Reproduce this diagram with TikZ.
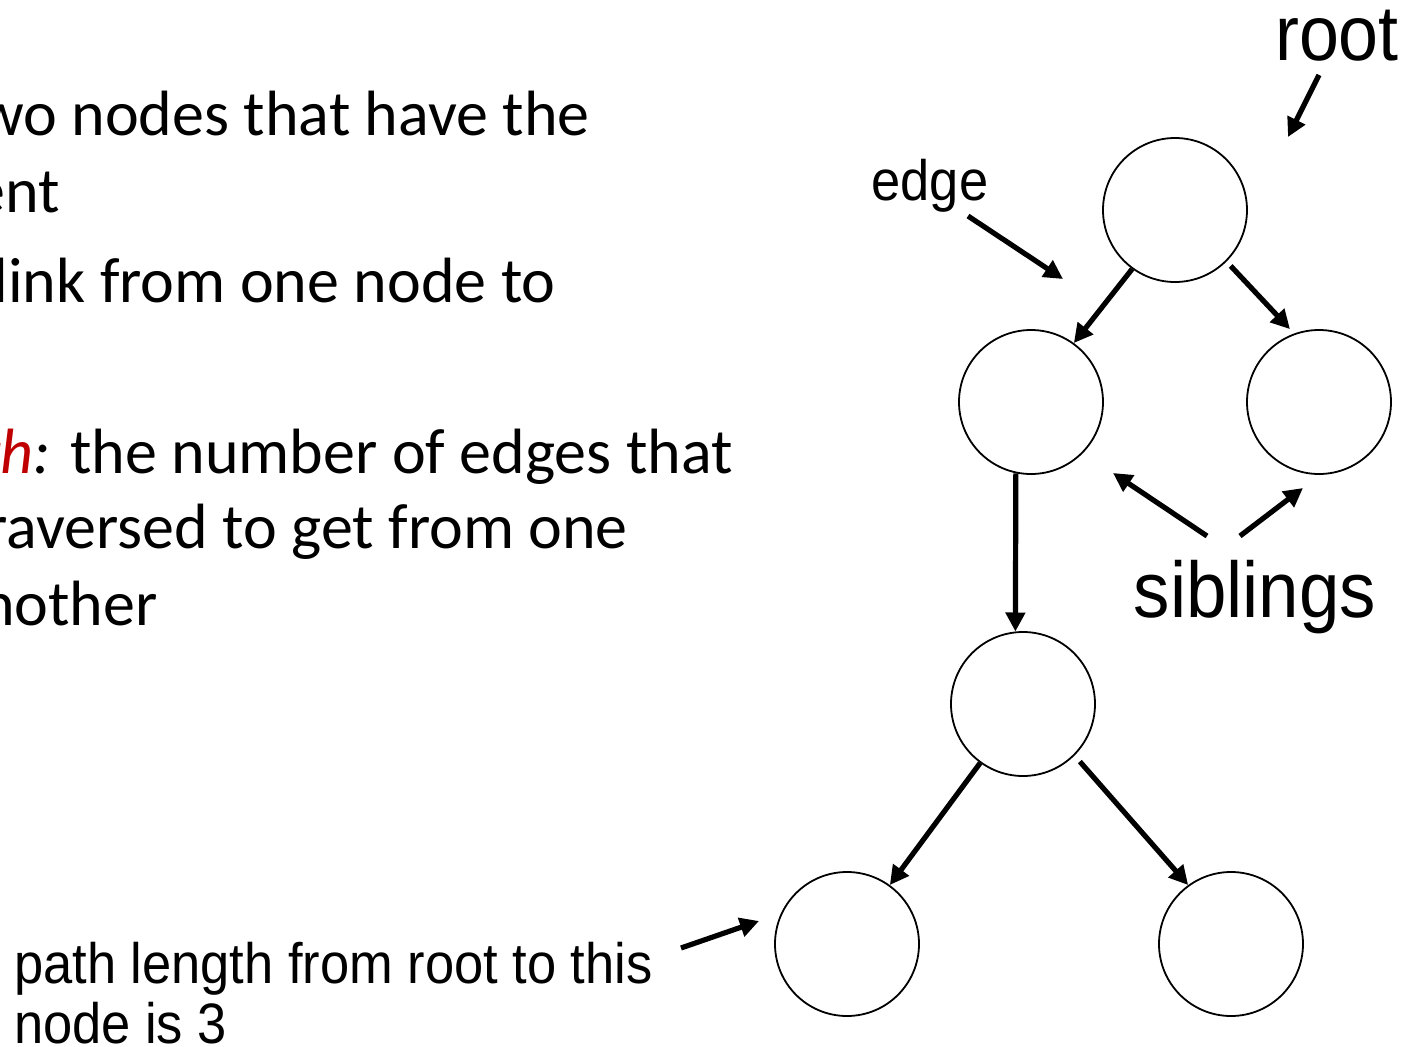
\documentclass[tikz,border=0pt]{standalone}
\usepackage{fontspec}
\setmainfont{Carlito}
\newfontfamily\arialfont[FakeStretch=0.92]{Liberation Sans}
\usetikzlibrary{arrows.meta}
\definecolor{termred}{RGB}{192,0,0}

\tikzset{
  vertex/.style={draw, circle, line width=1.8pt, minimum size=144pt, inner sep=0pt},
  link/.style={line width=5.2pt, -{Triangle[length=19pt,width=19pt]}},
  bodytext/.style={anchor=base east, inner sep=0pt, font=\fontsize{64}{77}\selectfont},
  tag/.style={anchor=base, inner sep=0pt, font=\arialfont\fontsize{#1}{#1}\selectfont}
}

\begin{document}
\begin{tikzpicture}[x=1pt,y=-1pt]
            \fill[white] (0,0) rectangle (1417,1047);
            \useasboundingbox (0,0) rectangle (1417,1047);

            % definitions on the left, cut off by the slide
            \node[bodytext] (def1) at (590,135) {wo nodes that have the};
            \node[bodytext] (def2) at (60,212) {ent};
            \node[bodytext] (def3) at (556,302) {link from one node to};
            \node[bodytext] (def4) at (733,473) {\textcolor{termred}{\textit{th}}\textit{:} the number of edges that};
            \node[bodytext] (def5) at (628,548) {raversed to get from one};
            \node[bodytext] (def6) at (158,625) {nother};

            % the tree
            \node[vertex] (root) at (1175,210) {};
            \node[vertex] (lchild) at (1031,402) {};
            \node[vertex] (rchild) at (1319,402) {};
            \node[vertex] (mid) at (1023,704) {};
            \node[vertex] (lleaf) at (847,944) {};
            \node[vertex] (rleaf) at (1231,944) {};

            \draw[link] (root.234) -- (lchild.54);
            \draw[link, shorten <=6pt, shorten >=6pt] (root.315) -- (rchild.110);
            \draw[link] (lchild.258) -- (mid.96);
            \draw[link] (mid.234) -- (lleaf.54);
            \draw[link, shorten <=8pt] (mid.315) -- (rleaf.126);

            % labels and pointers
            \node[tag=78] (rootlbl) at (1337,60) {root};
            \node[tag=57] (edgelbl) at (930,200) {edge};
            \node[tag=79] (siblbl) at (1255,617) {siblings};
            \node[tag=57, anchor=base west] (pathlbl1) at (14,983) {path length from root to this};
            \node[tag=57, anchor=base west] (pathlbl2) at (14,1043) {node is 3};

            \coordinate (roottail) at (1319,75);
            \coordinate (roottip) at (1288,137);
            \coordinate (edgetail) at (968,216);
            \coordinate (edgetip) at (1063,279);
            \coordinate (sibtail1) at (1207,536);
            \coordinate (sibtip1) at (1113,473);
            \coordinate (sibtail2) at (1240,536);
            \coordinate (sibtip2) at (1303,488);
            \coordinate (pathtail) at (681,948);
            \coordinate (pathtip) at (759,921);

            \draw[link] (roottail) -- (roottip);
            \draw[link] (edgetail) -- (edgetip);
            \draw[link] (sibtail1) -- (sibtip1);
            \draw[link] (sibtail2) -- (sibtip2);
            \draw[link] (pathtail) -- (pathtip);
            \end{tikzpicture}
\end{document}
